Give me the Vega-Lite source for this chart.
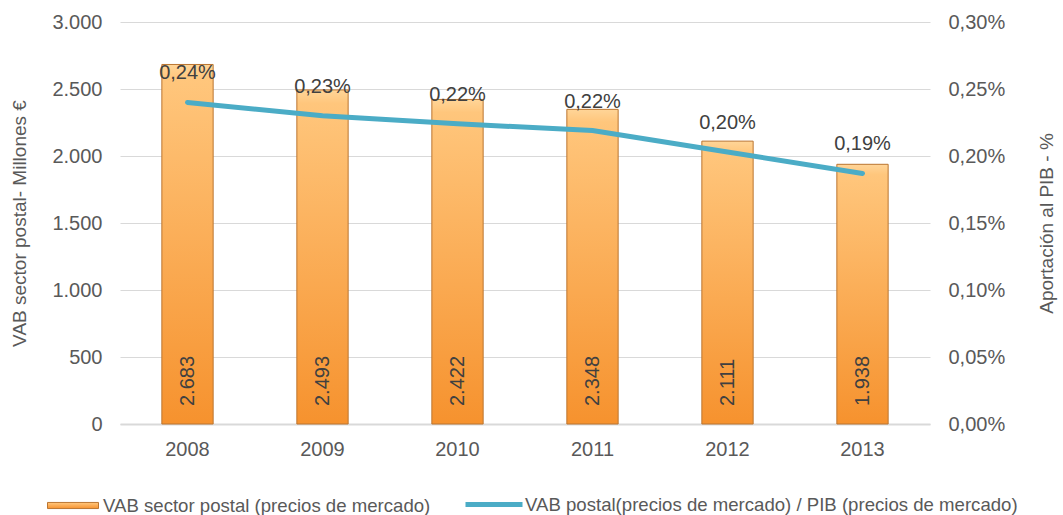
{
  "$schema": "https://vega.github.io/schema/vega-lite/v6.json",
  "autosize": "none",
  "width": 810,
  "height": 402,
  "padding": {"left": 120, "top": 22, "right": 133, "bottom": 91},
  "config": {
    "locale": {"number": {"decimal": ",", "thousands": ".", "grouping": [3], "currency": ["", " €"]}},
    "font": "Liberation Sans",
    "view": {"stroke": null},
    "axis": {"labelFont": "Liberation Sans", "titleFont": "Liberation Sans", "labelColor": "#595959", "titleColor": "#595959", "labelFontSize": 20, "titleFontSize": 19, "titleFontWeight": "normal"},
    "legend": {"labelFont": "Liberation Sans", "labelFontSize": 18.6, "labelColor": "#595959", "labelLimit": 0, "padding": 0, "labelOffset": 4}
  },
  "data": {"values": [
    {"year": "2008", "vab": 2683, "pct": 0.00240, "label": "0,24%", "sb": "VAB sector postal  (precios de mercado)", "sl": "VAB postal(precios de mercado) / PIB (precios de mercado)"},
    {"year": "2009", "vab": 2493, "pct": 0.00230, "label": "0,23%", "sb": "VAB sector postal  (precios de mercado)", "sl": "VAB postal(precios de mercado) / PIB (precios de mercado)"},
    {"year": "2010", "vab": 2422, "pct": 0.00224, "label": "0,22%", "sb": "VAB sector postal  (precios de mercado)", "sl": "VAB postal(precios de mercado) / PIB (precios de mercado)"},
    {"year": "2011", "vab": 2348, "pct": 0.00219, "label": "0,22%", "sb": "VAB sector postal  (precios de mercado)", "sl": "VAB postal(precios de mercado) / PIB (precios de mercado)"},
    {"year": "2012", "vab": 2111, "pct": 0.00203, "label": "0,20%", "sb": "VAB sector postal  (precios de mercado)", "sl": "VAB postal(precios de mercado) / PIB (precios de mercado)"},
    {"year": "2013", "vab": 1938, "pct": 0.00187, "label": "0,19%", "sb": "VAB sector postal  (precios de mercado)", "sl": "VAB postal(precios de mercado) / PIB (precios de mercado)"}
  ]},
  "encoding": {
    "x": {"field": "year", "type": "nominal", "title": null, "scale": {"paddingInner": 0.62, "paddingOuter": 0.31},
      "axis": {"labelAngle": 0, "ticks": false, "domainColor": "#D9D9D9", "domainWidth": 2, "labelPadding": 15}}
  },
  "layer": [
    {
      "layer": [
        {
          "mark": {"type": "bar", "strokeWidth": 1,
            "fill": {"gradient": "linear", "x1": 0, "y1": 0, "x2": 0, "y2": 1, "stops": [{"offset": 0, "color": "#FFD598"}, {"offset": 0.04, "color": "#FFC67C"}, {"offset": 1, "color": "#F6922E"}]}},
          "encoding": {
            "y": {"field": "vab", "type": "quantitative", "scale": {"domain": [0, 3000]},
              "title": "VAB sector postal- Millones €",
              "axis": {"values": [0, 500, 1000, 1500, 2000, 2500, 3000], "format": ",d", "ticks": false, "domain": false, "gridColor": "#D9D9D9", "labelPadding": 18, "titlePadding": 22}},
            "stroke": {"field": "sb", "type": "nominal", "title": null,
              "scale": {"range": ["#BB7530"]},
              "legend": {"orient": "none", "legendX": -73, "legendY": 457.5, "symbolType": "M-1,-0.12H1V0.12H-1Z", "symbolSize": 2601, "symbolFillColor": "#F6B055", "symbolStrokeWidth": 1}}
          }
        },
        {
          "mark": {"type": "text", "angle": 270, "align": "left", "baseline": "middle", "dx": 18, "fontSize": 20, "color": "#404040"},
          "encoding": {
            "y": {"datum": 0, "type": "quantitative"},
            "text": {"field": "vab", "type": "quantitative", "format": ",d"}
          }
        }
      ]
    },
    {
      "layer": [
        {
          "mark": {"type": "line", "strokeWidth": 5, "strokeCap": "round"},
          "encoding": {
            "y": {"field": "pct", "type": "quantitative", "scale": {"domain": [0, 0.003]},
              "title": "Aportación al PIB  - %",
              "axis": {"orient": "right", "values": [0, 0.0005, 0.001, 0.0015, 0.002, 0.0025, 0.003], "format": ".2%", "grid": false, "ticks": false, "domain": false, "labelPadding": 18, "titleAngle": 270, "titlePadding": 52}},
            "stroke": {"field": "sl", "type": "nominal", "title": null,
              "scale": {"range": ["#4BACC6"]},
              "legend": {"orient": "none", "legendX": 343, "legendY": 451.5, "labelOffset": 0, "symbolType": "stroke", "symbolStrokeWidth": 5, "symbolSize": 3249}}
          }
        },
        {
          "mark": {"type": "text", "dy": -29, "fontSize": 20, "color": "#404040"},
          "encoding": {
            "y": {"field": "pct", "type": "quantitative"},
            "text": {"field": "label"}
          }
        }
      ]
    }
  ],
  "resolve": {"scale": {"y": "independent", "stroke": "independent"}}
}
